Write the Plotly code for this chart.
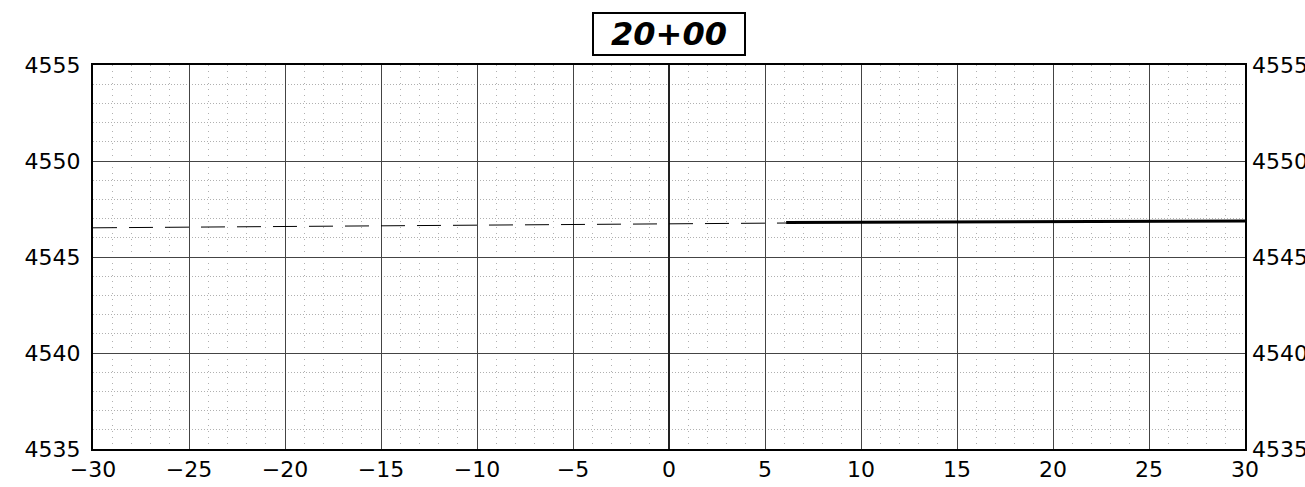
import plotly.graph_objects as go

# Cross-section at station 20+00: offset (ft) vs elevation
station_label = "20+00"

existing_offset = [-30.0, 6.1]
existing_elev = [4546.52, 4546.77]

proposed_offset = [6.1, 30.0]
proposed_elev = [4546.80, 4546.88]

x_ticks = [-30, -25, -20, -15, -10, -5, 0, 5, 10, 15, 20, 25, 30]
x_tick_text = ["\u221230", "\u221225", "\u221220", "\u221215", "\u221210", "\u22125",
               "0", "5", "10", "15", "20", "25", "30"]
y_ticks = [4535, 4540, 4545, 4550, 4555]

x_range = [-30, 30]
y_range = [4535, 4555]

fig = go.Figure()

fig.add_trace(go.Scatter(
    x=existing_offset, y=existing_elev, mode="lines",
    line=dict(color="black", width=1, dash="24px,12px"),
    showlegend=False, hoverinfo="skip",
))
fig.add_trace(go.Scatter(
    x=proposed_offset, y=proposed_elev, mode="lines",
    line=dict(color="black", width=3),
    showlegend=False, hoverinfo="skip",
))
# invisible trace so the right-hand elevation axis is drawn
fig.add_trace(go.Scatter(
    x=x_range, y=y_range, yaxis="y2", mode="lines",
    line=dict(width=0), opacity=0, showlegend=False, hoverinfo="skip",
))

tick_font = dict(family="DejaVu Sans, sans-serif", size=22, color="black")

fig.update_layout(
    width=1305, height=487,
    margin=dict(l=93, r=60, t=65, b=38),
    paper_bgcolor="white", plot_bgcolor="white",
    xaxis=dict(
        range=x_range, tickmode="array", tickvals=x_ticks, ticktext=x_tick_text,
        automargin=False,
        showgrid=True, gridcolor="#444444", gridwidth=1,
        zeroline=True, zerolinecolor="#222222", zerolinewidth=1.5,
        showline=True, linecolor="black", linewidth=2, mirror=True,
        ticks="", tickfont=tick_font, ticklabelstandoff=0,
        minor=dict(tickmode="linear", tick0=0, dtick=1, showgrid=True,
                   gridcolor="#b0b0b0", gridwidth=1, griddash="1px,5px"),
    ),
    yaxis=dict(
        range=y_range, tickmode="array", tickvals=y_ticks, automargin=False,
        showgrid=True, gridcolor="#444444", gridwidth=1, zeroline=False,
        showline=True, linecolor="black", linewidth=2, mirror=True,
        ticks="", tickfont=tick_font, ticklabelstandoff=6,
        minor=dict(tickmode="linear", tick0=0, dtick=1, showgrid=True,
                   gridcolor="#b0b0b0", gridwidth=1, griddash="1px,2px"),
    ),
    yaxis2=dict(
        range=y_range, tickmode="array", tickvals=y_ticks, overlaying="y",
        side="right", automargin=False,
        showgrid=False, zeroline=False, showline=False,
        ticks="", tickfont=tick_font, ticklabelstandoff=6,
    ),
    annotations=[dict(
        text="<b><i>" + station_label + "</i></b>",
        xref="paper", yref="paper", x=0.5, y=1.0, yshift=31,
        xanchor="center", yanchor="middle", showarrow=False,
        width=150, height=40, align="center", valign="middle",
        font=dict(family="DejaVu Sans, sans-serif", size=32, color="black"),
        bordercolor="black", borderwidth=2, borderpad=0, bgcolor="white",
    )],
)

fig.write_html("out.html")
